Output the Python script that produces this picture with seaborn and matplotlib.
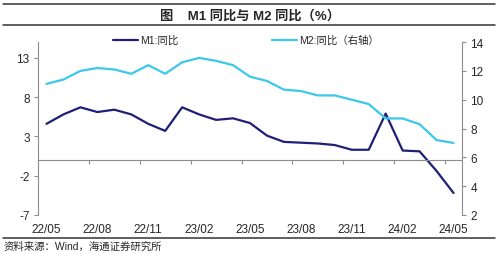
import numpy as np
import pandas as pd
import matplotlib
matplotlib.use("Agg")
import matplotlib.pyplot as plt
from matplotlib.lines import Line2D
import seaborn as sns

# monthly data 22/05 - 24/05
months = ["22/05", "22/06", "22/07", "22/08", "22/09", "22/10", "22/11", "22/12",
          "23/01", "23/02", "23/03", "23/04", "23/05", "23/06", "23/07", "23/08",
          "23/09", "23/10", "23/11", "23/12", "24/01", "24/02", "24/03", "24/04", "24/05"]
m1 = [4.6, 5.8, 6.7, 6.1, 6.4, 5.8, 4.6, 3.7, 6.7, 5.8, 5.1, 5.3, 4.7,
      3.1, 2.3, 2.2, 2.1, 1.9, 1.3, 1.3, 5.9, 1.2, 1.1, -1.4, -4.2]
m2 = [11.1, 11.4, 12.0, 12.2, 12.1, 11.8, 12.4, 11.8, 12.6, 12.9, 12.7, 12.4, 11.6,
      11.3, 10.7, 10.6, 10.3, 10.3, 10.0, 9.7, 8.7, 8.7, 8.3, 7.2, 7.0]
tick_labels = months[::3]

df = pd.DataFrame({"pos": np.arange(len(months)), "M1": m1, "M2": m2})

sns.set_style("white")
plt.rcParams['font.family'] = ['Liberation Sans', 'Noto Sans CJK SC', 'DejaVu Sans']
plt.rcParams['axes.unicode_minus'] = False

c_m1 = "#1f1f78"
c_m2 = "#3cc8e8"
grey = "#8c8c8c"

fig = plt.figure(figsize=(5, 2.55), dpi=100)
ax = fig.add_axes([0.076, 0.153, 0.848, 0.678])
ax2 = ax.twinx()

sns.lineplot(data=df, x="pos", y="M1", ax=ax, color=c_m1, lw=1.6, label="M1:同比", legend=False)
sns.lineplot(data=df, x="pos", y="M2", ax=ax2, color=c_m2, lw=1.6, label="M2:同比（右轴）", legend=False)

ax.set_xlim(-0.5, len(months) - 0.5)
ax.set_ylim(-7, 15)
ax.set_yticks([-7, -2, 3, 8, 13])
ax2.set_ylim(2, 14)
ax2.set_yticks([2, 4, 6, 8, 10, 12, 14])

# x labels at the bottom, tick marks between categories on the zero line
ax.set_xticks(df["pos"][::3])
ax.set_xticklabels(tick_labels)
ax.set_xticks(np.arange(2.5, len(months) - 1, 3), minor=True)
ax.spines["bottom"].set_position(("data", 0))
ax.tick_params(axis="x", which="major", bottom=True, length=0, pad=45.5, labelsize=8.5)
ax.tick_params(axis="x", which="minor", bottom=True, length=3, direction="out", color=grey, width=0.8)
ax.tick_params(axis="y", left=True, length=3, direction="out", color=grey, width=0.8, labelsize=8.5, pad=3)
ax2.tick_params(axis="y", right=True, length=3, direction="out", color=grey, width=0.8, labelsize=8.5, pad=3)

for a in (ax, ax2):
    a.set_xlabel("")
    a.set_ylabel("")
    a.spines["top"].set_visible(False)
ax.spines["right"].set_visible(False)
ax2.spines["left"].set_visible(False)
ax2.spines["bottom"].set_visible(False)
for s in ("left", "bottom"):
    ax.spines[s].set_color(grey)
    ax.spines[s].set_linewidth(0.8)
ax2.spines["right"].set_color(grey)
ax2.spines["right"].set_linewidth(0.8)

h1, l1 = ax.get_legend_handles_labels()
h2, l2 = ax2.get_legend_handles_labels()
fig.legend(h1 + h2, l1 + l2, loc="center", bbox_to_anchor=(0.492, 0.839), ncol=2,
           frameon=False, fontsize=7.5, handlelength=2.4, handletextpad=0.2,
           columnspacing=9, borderaxespad=0, borderpad=0)

# title and rules
fig.text(0.5, 0.937, "图    M1 同比与 M2 同比（%）", ha="center", va="center",
         fontsize=9.5, fontweight="bold")
for y in (0.982, 0.898, 0.063):
    fig.add_artist(Line2D([0.006, 0.99], [y, y], transform=fig.transFigure,
                          color="#333333", lw=1.1))
fig.text(0.008, 0.031, "资料来源：Wind，海通证券研究所", ha="left", va="center", fontsize=7.5)

fig.savefig("out.png", dpi=100)
